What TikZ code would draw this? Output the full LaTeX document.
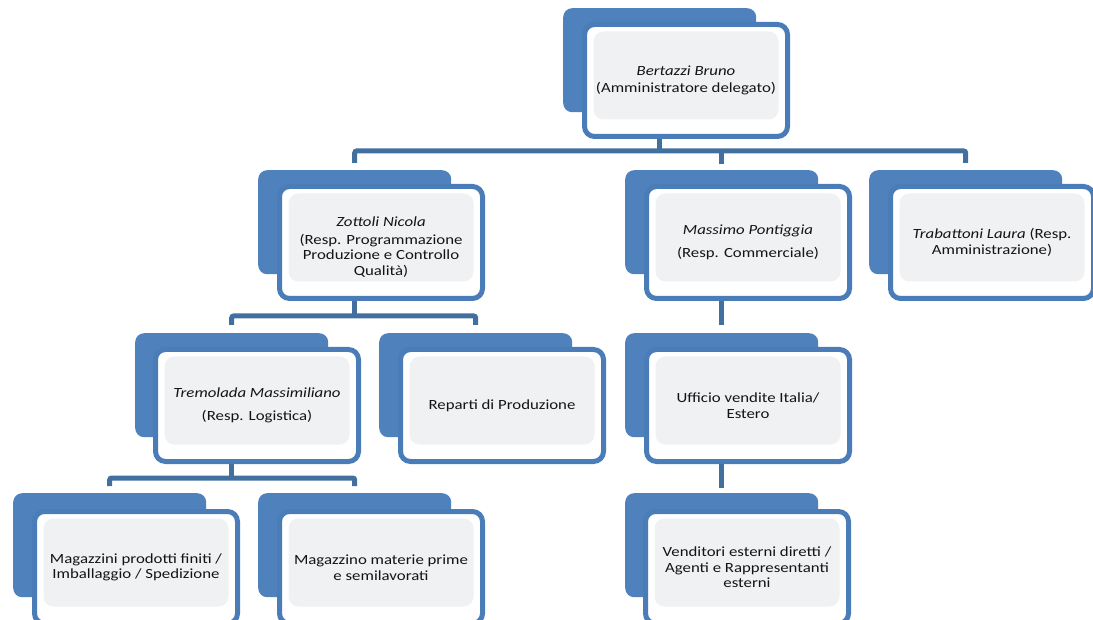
\documentclass[tikz,border=0pt]{standalone}
\usepackage{fontspec}
\setmainfont{Carlito}[FakeStretch=1.2]
\usetikzlibrary{calc}
\definecolor{backblue}{HTML}{4F81BD}
\definecolor{frameblue}{HTML}{4A7CB8}
\definecolor{connblue}{HTML}{41709F}
\definecolor{innergray}{HTML}{F0F1F3}
\definecolor{txt}{HTML}{141414}
\tikzset{
  backbox/.style={draw=none, fill=backblue, rounded corners=9pt, minimum width=193pt, minimum height=104pt, inner sep=0pt, anchor=north west},
  frontbox/.style={draw=frameblue, line width=5pt, fill=white, rounded corners=10pt, minimum width=203pt, minimum height=112pt, inner sep=0pt, anchor=north west, align=center, text=txt, font=\fontsize{14}{15.5}\selectfont,
    path picture={\fill[innergray] ($(path picture bounding box.north west)+(9,7)$) rectangle ($(path picture bounding box.south east)+(-9,-17)$);}},
  conn/.style={draw=connblue, line width=5pt, rounded corners=2pt},
}
\begin{document}
\begin{tikzpicture}[x=1pt,y=-1pt]
\useasboundingbox (0,0) rectangle (1093,620);
% back boxes
\node[backbox] (topB) at (563,8) {};
\node[backbox] (zotB) at (258,170) {};
\node[backbox] (masB) at (625,170) {};
\node[backbox] (traB) at (869,170) {};
\node[backbox] (treB) at (135,333) {};
\node[backbox] (repB) at (379,333) {};
\node[backbox] (uffB) at (625,333) {};
\node[backbox] (mgfB) at (13,493) {};
\node[backbox] (mgpB) at (258,493) {};
\node[backbox] (venB) at (625,493) {};
% bar coordinates
\coordinate (barA) at (0,151);
\coordinate (barB) at (0,316);
\coordinate (barC) at (0,478);
% connectors
\draw[conn] ($(zotB.north)+(0,-7)$) -- (zotB.north |- barA) -- (traB.north |- barA) -- ($(traB.north)+(0,-7)$);
\draw[conn] (topB.north |- 0,125) -- (topB.north |- barA);
\draw[conn] (masB.north |- barA) -- ($(masB.north)+(0,-6)$);
\draw[conn] (zotB.north |- 0,290) -- (zotB.north |- barB);
\draw[conn] ($(treB.north)+(0,-8)$) -- (treB.north |- barB) -- (repB.north |- barB) -- ($(repB.north)+(0,-8)$);
\draw[conn] (masB.north |- 0,290) -- ($(uffB.north)+(0,-8)$);
\draw[conn] (treB.north |- 0,452) -- (treB.north |- barC);
\draw[conn] ($(mgfB.north)+(0,-7)$) -- (mgfB.north |- barC) -- (mgpB.north |- barC) -- ($(mgpB.north)+(0,-7)$);
\draw[conn] (uffB.north |- 0,452) -- ($(venB.north)+(0,-5)$);
% front boxes
\node[frontbox] (top) at ($(topB.north west)+(19,14)$) {\textit{Bertazzi Bruno}\\[1pt](Amministratore delegato)};
\node[frontbox] (zot) at ($(zotB.north west)+(19,14)$) {\rule{0pt}{19pt}\textit{Zottoli Nicola}\\[2pt](Resp. Programmazione\\Produzione e Controllo\\Qualità)};
\node[frontbox] (mas) at ($(masB.north west)+(19,14)$) {\textit{Massimo Pontiggia}\\[7pt](Resp. Commerciale)};
\node[frontbox] (tra) at ($(traB.north west)+(19,14)$) {\textit{Trabattoni Laura} (Resp.\\Amministrazione)};
\node[frontbox] (tre) at ($(treB.north west)+(18,14)$) {\textit{Tremolada Massimiliano}\\[8pt](Resp. Logistica)};
\node[frontbox] (rep) at ($(repB.north west)+(19,14)$) {Reparti di Produzione};
\node[frontbox] (uff) at ($(uffB.north west)+(19,14)$) {Ufficio vendite Italia/\\Estero};
\node[frontbox] (mgf) at ($(mgfB.north west)+(19,16)$) {Magazzini prodotti finiti /\\Imballaggio / Spedizione};
\node[frontbox] (mgp) at ($(mgpB.north west)+(19,16)$) {Magazzino materie prime\\e semilavorati};
\node[frontbox] (ven) at ($(venB.north west)+(18,16)$) {Venditori esterni diretti /\\Agenti e Rappresentanti\\esterni};
\end{tikzpicture}
\end{document}
